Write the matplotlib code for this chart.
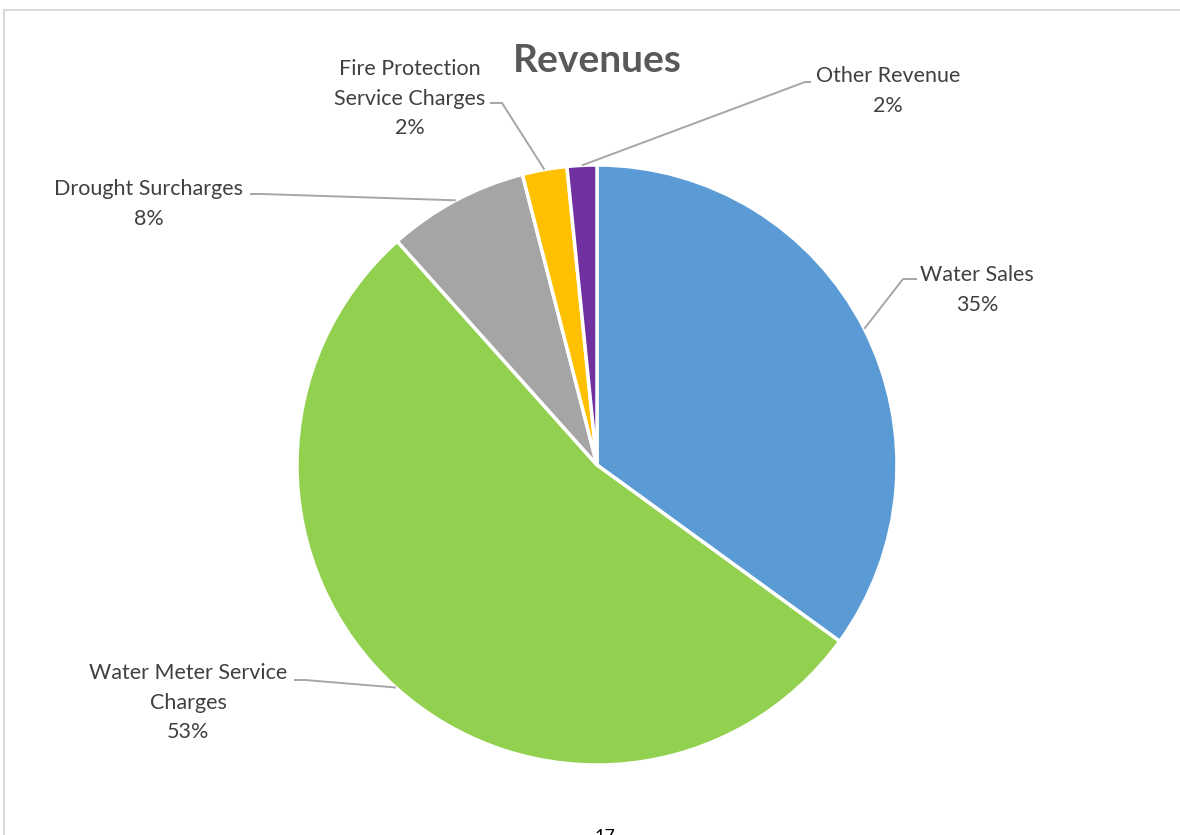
import numpy as np
import matplotlib as mpl
mpl.use('Agg')
import matplotlib.pyplot as plt
from matplotlib.patches import Rectangle

categories = ['Water Sales', 'Water Meter Service\nCharges', 'Drought Surcharges',
              'Fire Protection\nService Charges', 'Other Revenue']
shares = [35.0, 53.4, 7.6, 2.4, 1.6]
colors = ['#5B9BD5', '#92D050', '#A5A5A5', '#FFC000', '#7030A0']

W, H = 1180, 835
CX, CY, R = 597, 465, 300   # pie centre / radius in pixels

# label text anchor (centre x, top y) and leader elbow/end points, in pixels
label_pos = [(977, 265), (188, 663), (149, 179), (410, 59), (888, 66)]
leaders = [[(903, 279), (917, 279)],
           [(305, 680), (294, 680)],
           [(262, 194), (250, 194)],
           [(502, 103), (490, 103)],
           [(805, 82), (811, 82)]]

def px(x, y):
    return (x - CX) / R, (CY - y) / R

plt.rcParams['font.family'] = ['Lato', 'DejaVu Sans']
fig = plt.figure(figsize=(W / 100, H / 100), dpi=100)
ax = fig.add_axes([0, 0, 1, 1])

wedges, _ = ax.pie(shares, colors=colors, startangle=90, counterclock=False,
                   radius=1, center=(0, 0),
                   wedgeprops=dict(edgecolor='white', linewidth=2.5))
ax.set_xlim(-CX / R, (W - CX) / R)
ax.set_ylim(-(H - CY) / R, CY / R)
ax.set_aspect('equal')
ax.axis('off')

total = sum(shares)
for w, name, v, (lx, ly), pts in zip(wedges, categories, shares, label_pos, leaders):
    mid = np.deg2rad((w.theta1 + w.theta2) / 2)
    xs = [np.cos(mid)] + [px(*p)[0] for p in pts]
    ys = [np.sin(mid)] + [px(*p)[1] for p in pts]
    ax.plot(xs, ys, color='#A6A6A6', lw=1.4, solid_capstyle='butt', zorder=3)
    tx, ty = px(lx, ly)
    ax.text(tx, ty, '%s\n%d%%' % (name, round(v / total * 100)), ha='center', va='top',
            fontsize=15.5, color='#404040', linespacing=1.6)

fig.text(597 / W, 1 - 60 / H, 'Revenues', ha='center', va='center',
         fontsize=28, fontweight='bold', color='#595959')

# chart frame running off the right and bottom of the page
fig.patches.append(Rectangle((3.5 / W, -0.1), 1.2, 1.1 - 10.5 / H,
                             transform=fig.transFigure, fill=False,
                             edgecolor='#D9D9D9', lw=1.5))
fig.text(605 / W, 1 - 829 / H, '17', ha='center', va='top', fontsize=13, color='black')

fig.savefig('out.png', dpi=100, facecolor='white')
